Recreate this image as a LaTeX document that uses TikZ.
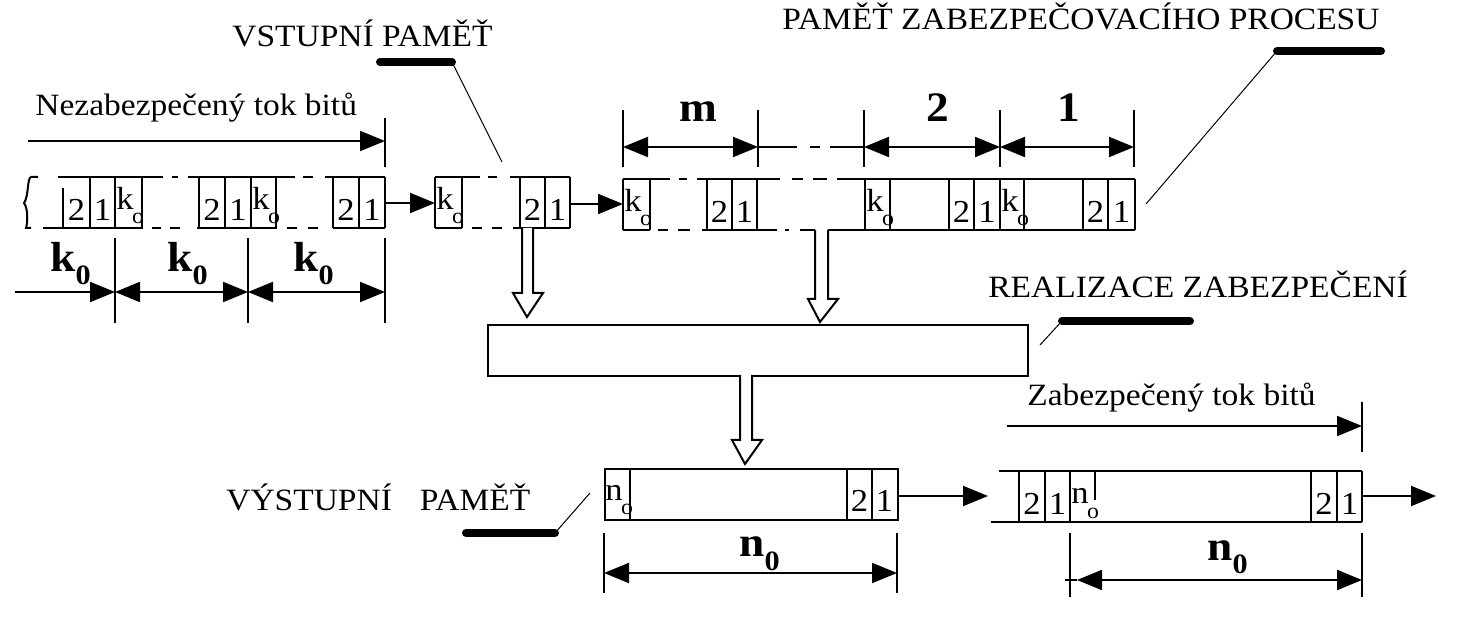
\documentclass[tikz,border=0pt]{standalone}
\usepackage{fontspec}
\setmainfont{Liberation Serif}[FakeStretch=1.08]
\usetikzlibrary{arrows.meta}
\newcommand\cellsub[1]{#1\kern-0.8pt\raisebox{-7pt}{\fontsize{11}{11}\selectfont o}}
\newcommand\dimsub[2]{#1\raisebox{-6.5pt}{\fontsize{14}{14}\selectfont #2}}
\tikzset{
 ln/.style={line width=1pt},
 thinln/.style={line width=0.5pt},
 leaderbar/.style={line width=4pt, line cap=round},
 tri/.tip={Triangle[length=12.5pt,width=10pt]},
 flowarrow/.style={line width=1pt, -tri},
 dimboth/.style={line width=1pt, tri-tri},
 lbl/.style={font=\fontsize{15.5}{18}\selectfont, inner sep=0pt, anchor=base west},
 celltxt/.style={font=\fontsize{16}{16}\selectfont, inner sep=0pt, anchor=base},
 cellsubtxt/.style={font=\fontsize{16}{16}\selectfont, inner sep=0pt, anchor=base west},
 dimlbl/.style={font=\bfseries\fontsize{21}{21}\selectfont, inner sep=0pt, anchor=base},
 dimlblw/.style={font=\bfseries\fontsize{21}{21}\selectfont, inner sep=0pt, anchor=base west},
 hollow/.style={line width=1pt, fill=white},
}
\begin{document}
\begin{tikzpicture}[x=0.5pt,y=-0.5pt]
\useasboundingbox (0,0) rectangle (1457,630);

% ---------- labels ----------
\node[lbl] (tvst) at (232,47) {VSTUPNÍ PAMĚŤ};
\node[lbl] (tproc) at (782,30) {PAMĚŤ ZABEZPEČOVACÍHO PROCESU};
\node[lbl] (treal) at (988,298) {REALIZACE ZABEZPEČENÍ};
\node[lbl] (tvys) at (226,511) {VÝSTUPNÍ\hspace{0.9em}PAMĚŤ};
\node[lbl] (tnez) at (35,116) {Nezabezpečený tok bitů};
\node[lbl] (tzab) at (1027,406) {Zabezpečený tok bitů};

% ---------- leaders ----------
\coordinate (l1a) at (380,62); \coordinate (l1b) at (452,62); \coordinate (l1c) at (502,162);
\draw[leaderbar] (l1a) -- (l1b); \draw[thinln] (l1b) -- (l1c);
\coordinate (l2a) at (1381,51); \coordinate (l2b) at (1277,51); \coordinate (l2c) at (1146,204);
\draw[leaderbar] (l2a) -- (l2b); \draw[thinln] (l2b) -- (l2c);
\coordinate (l3a) at (1190,321); \coordinate (l3b) at (1062,321); \coordinate (l3c) at (1040,345);
\draw[leaderbar] (l3a) -- (l3b); \draw[thinln] (l3b) -- (l3c);
\coordinate (l4a) at (466,533); \coordinate (l4b) at (555,533); \coordinate (l4c) at (590,493);
\draw[leaderbar] (l4a) -- (l4b); \draw[thinln] (l4b) -- (l4c);

% ---------- section A: unprotected stream ----------
\coordinate (sa1) at (28,141); \coordinate (sa2) at (385,141);
\draw[flowarrow] (sa1) -- (sa2);
\draw[ln] (385,118) -- (385,167);
% brace
\draw[ln] (38,177) -- (31,177) .. controls (27,178) and (29,196) .. (24,203) .. controls (29,210) and (27,226) .. (26,228) -- (31,228);
% top line
\draw[ln] (58,177) -- (163,177) (172,177) -- (178,177) (188,177) -- (295,177)
          (303,177) -- (313,177) (325,177) -- (385,177);
% bottom line
\draw[ln] (43,228) -- (143,228) (152,228) -- (161,228) (170,228) -- (180,228)
          (197,228) -- (277,228) (287,228) -- (297,228) (308,228) -- (318,228)
          (333,228) -- (385,228);
% cells
\draw[ln] (63,188) -- (63,228);
\foreach \x in {90,115,142,199,225,251,276,333,359,385} \draw[ln] (\x,177) -- (\x,228);
\node[celltxt] (a2a) at (76.5,221) {2};
\node[celltxt] (a1a) at (102.5,221) {1};
\node[cellsubtxt] (aka) at (116,210) {\cellsub{k}};
\node[celltxt] (a2b) at (212,221) {2};
\node[celltxt] (a1b) at (238,221) {1};
\node[cellsubtxt] (akb) at (252,210) {\cellsub{k}};
\node[celltxt] (a2c) at (346,221) {2};
\node[celltxt] (a1c) at (372,221) {1};
% k0 dimensions
\foreach \x in {115,248,385} \draw[ln] (\x,238) -- (\x,323);
\coordinate (ka0) at (15,292); \coordinate (ka1) at (115,292);
\coordinate (ka2) at (248,292); \coordinate (ka3) at (385,292);
\draw[flowarrow] (ka0) -- (ka1);
\draw[dimboth] (ka1) -- (ka2);
\draw[dimboth] (ka2) -- (ka3);
\node[dimlblw] (dk1) at (50,272) {\dimsub{k}{0}};
\node[dimlblw] (dk2) at (167,272) {\dimsub{k}{0}};
\node[dimlblw] (dk3) at (293,272) {\dimsub{k}{0}};

% arrow A -> B
\coordinate (ab1) at (385,203); \coordinate (ab2) at (435,203);
\draw[flowarrow] (ab1) -- (ab2);

% ---------- section B: input memory ----------
\draw[ln] (435,177) -- (480,177) (488,177) -- (497,177) (510,177) -- (570,177);
\draw[ln] (435,228) -- (462,228) (472,228) -- (482,228) (492,228) -- (502,228) (513,228) -- (570,228);
\foreach \x in {435,462,520,545,570} \draw[ln] (\x,177) -- (\x,228);
\node[cellsubtxt] (bk) at (436,210) {\cellsub{k}};
\node[celltxt] (b2) at (532.5,221) {2};
\node[celltxt] (b1) at (557.5,221) {1};

% arrow B -> C
\coordinate (bc1) at (570,204); \coordinate (bc2) at (623,204);
\draw[flowarrow] (bc1) -- (bc2);

% ---------- section C: process memory ----------
\draw[ln] (623,179) -- (670,179) (679,179) -- (687,179) (697,179) -- (780,179)
          (792,179) -- (803,179) (813,179) -- (827,179) (837,179) -- (1135,179);
\draw[ln] (623,230) -- (650,230) (658,230) -- (668,230) (678,230) -- (690,230)
          (702,230) -- (777,230) (785,230) -- (789,230) (800,230) -- (815,230)
          (828,230) -- (1135,230);
\foreach \x in {623,650,707,732,757,865,890,949,974,1000,1024,1083,1108,1135} \draw[ln] (\x,179) -- (\x,230);
\node[cellsubtxt] (ck1) at (624,212) {\cellsub{k}};
\node[celltxt] (c2a) at (719.5,223) {2};
\node[celltxt] (c1a) at (744.5,223) {1};
\node[cellsubtxt] (ck2) at (866,212) {\cellsub{k}};
\node[celltxt] (c2b) at (961.5,223) {2};
\node[celltxt] (c1b) at (987,223) {1};
\node[cellsubtxt] (ck3) at (1001,212) {\cellsub{k}};
\node[celltxt] (c2c) at (1095.5,223) {2};
\node[celltxt] (c1c) at (1121.5,223) {1};
% m,2,1 dimensions
\foreach \x in {623,758,864,1000,1134} \draw[ln] (\x,110) -- (\x,167);
\coordinate (cm0) at (623,147); \coordinate (cm1) at (758,147);
\coordinate (cm2) at (864,147); \coordinate (cm3) at (1000,147); \coordinate (cm4) at (1134,147);
\draw[dimboth] (cm0) -- (cm1);
\draw[ln] (758,147) -- (797,147) (810,147) -- (820,147) (830,147) -- (864,147);
\draw[dimboth] (cm2) -- (cm3);
\draw[dimboth] (cm3) -- (cm4);
\node[dimlbl] (dm) at (698,122) {m};
\node[dimlbl] (d2) at (938,122) {2};
\node[dimlbl] (d1) at (1069,122) {1};

% ---------- realization box ----------
\node[draw, ln, anchor=north west, minimum width=270pt, minimum height=25.5pt, inner sep=0pt] (real) at (487,324) {};

% hollow arrows
\draw[hollow] (522,228) -- (522,293) -- (513,293) -- (527,317) -- (543,293) -- (533,293) -- (533,228);
\draw[hollow] (815,230) -- (815,299) -- (808,299) -- (820,322) -- (838,299) -- (828,299) -- (828,230);
\draw[hollow] (740,375) -- (740,440) -- (732,440) -- (745,464) -- (762,440) -- (752,440) -- (752,375);

% ---------- output memory ----------
\node[draw, ln, anchor=north west, minimum width=146.5pt, minimum height=25.5pt, inner sep=0pt] (outm) at (604,468) {};
\foreach \x in {630,847,872} \draw[ln] (\x,468) -- (\x,519);
\node[cellsubtxt] (on) at (605,501) {\cellsub{n}};
\node[celltxt] (o2) at (859.5,512) {2};
\node[celltxt] (o1) at (884.5,512) {1};
% n0 dimension
\draw[ln] (604,533) -- (604,593) (897,533) -- (897,593);
\coordinate (on0) at (604,573); \coordinate (on1) at (897,573);
\draw[dimboth] (on0) -- (on1);
\node[dimlblw] (dn1) at (739,557) {\dimsub{n}{0}};

% arrow out -> stream
\coordinate (os1) at (897,496); \coordinate (os2) at (988,496);
\draw[flowarrow] (os1) -- (os2);

% ---------- protected stream ----------
\coordinate (sz1) at (1007,426); \coordinate (sz2) at (1362,426);
\draw[flowarrow] (sz1) -- (sz2);
\draw[ln] (1362,402) -- (1362,452);
\draw[ln] (999,471) -- (1362,471);
\draw[ln] (991,522) -- (1362,522);
\foreach \x in {1019,1045,1070,1311,1337,1362} \draw[ln] (\x,471) -- (\x,522);
\draw[ln] (1095,471) -- (1095,500);
\node[celltxt] (z2a) at (1032,515) {2};
\node[celltxt] (z1a) at (1057.5,515) {1};
\node[cellsubtxt] (zn) at (1071,504) {\cellsub{n}};
\node[celltxt] (z2b) at (1324,515) {2};
\node[celltxt] (z1b) at (1349.5,515) {1};
\coordinate (zo1) at (1362,496); \coordinate (zo2) at (1436,496);
\draw[flowarrow] (zo1) -- (zo2);
% n0 dimension
\draw[ln] (1070,533) -- (1070,597) (1362,533) -- (1362,597);
\coordinate (zd0) at (1077,580); \coordinate (zd1) at (1362,580);
\draw[ln] (1065,580) -- (1077,580);
\draw[dimboth] (zd0) -- (zd1);
\node[dimlblw] (dn2) at (1207,560) {\dimsub{n}{0}};
\end{tikzpicture}
\end{document}
